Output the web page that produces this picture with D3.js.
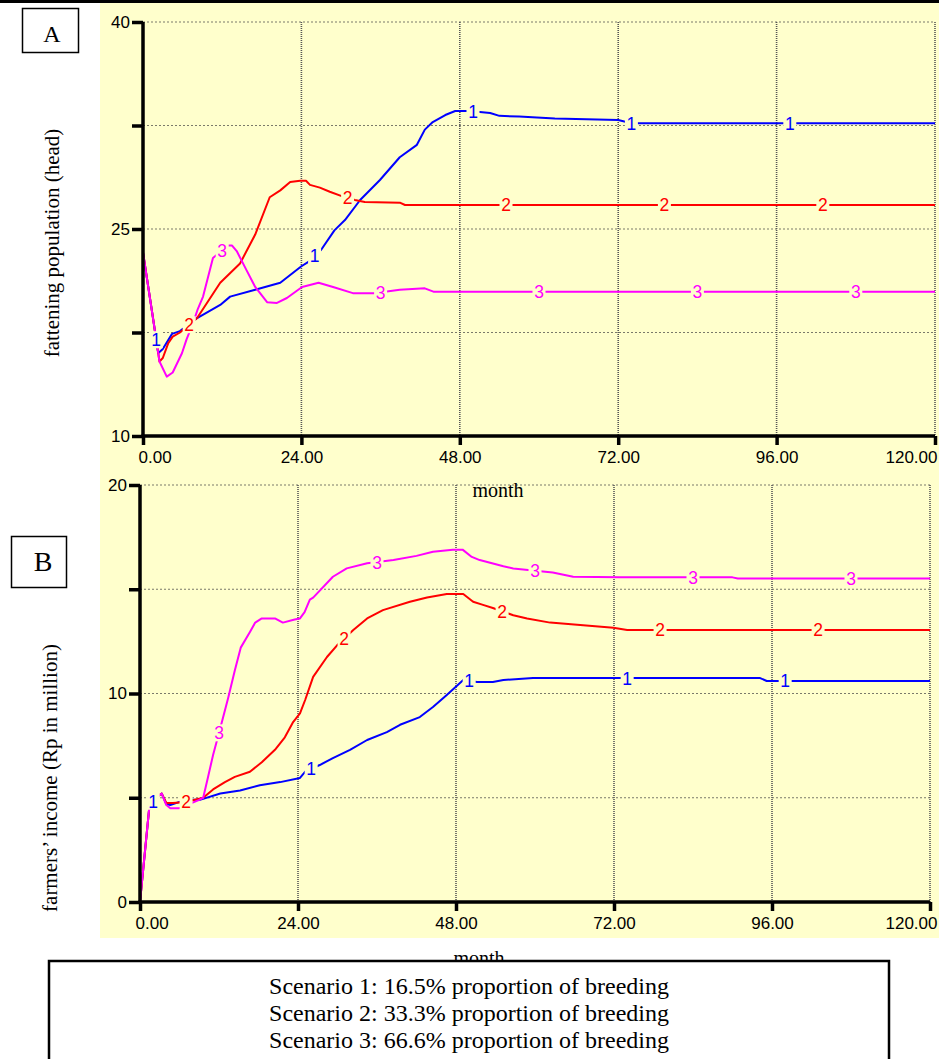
<!DOCTYPE html>
<html><head><meta charset="utf-8">
<script src="https://cdn.jsdelivr.net/npm/d3@7"></script>
<style>body{margin:0;background:#fff;} svg{display:block;}</style>
</head><body>
<svg id="c" width="939" height="1059"></svg>
<script>
// ---------- data ----------
const monthTicks = [0, 24, 48, 72, 96, 120];
const monthTickLabels = ["0.00", "24.00", "48.00", "72.00", "96.00", "120.00"];
const popTicks = [10, 17.5, 25, 32.5, 40];
const popTickLabels = ["10", "", "25", "", "40"];
const incomeTicks = [0, 5, 10, 15, 20];
const incomeTickLabels = ["0", "", "10", "", "20"];
const seriesNames = ["1", "2", "3"];
const seriesColors = ["#0000ff", "#ff0000", "#ff00ff"];
const labelMonths1 = [2, 26, 50, 74, 98];
const labelMonths2 = [7, 31, 55, 79, 103];
const labelMonths3 = [12, 36, 60, 84, 108];

// Panel A: fattening population (head), [month, value]
const pop1 = [[0,23.3],[1.5,18.6],[2.3,16.0],[3,16.3],[4.4,17.4],[5.6,17.6],[6,17.75],[7.1,18.1],[8.2,18.55],[11.7,19.5],[13.2,20.1],[17,20.6],[20.8,21.1],[24,22.3],[25,22.6],[27,23.5],[29,24.9],[30.6,25.65],[32.9,27.1],[35.9,28.55],[38.9,30.2],[41.5,31.1],[42.7,32.2],[43.9,32.75],[45.8,33.26],[47.3,33.55],[49.5,33.55],[52.6,33.4],[54,33.2],[57,33.15],[59,33.1],[62.4,33.0],[72,32.9],[74,32.66],[120,32.66]];
const pop2 = [[0,23.3],[1.5,18.6],[2.5,15.4],[3,15.65],[3.8,16.7],[4.5,17.2],[5.6,17.5],[8.2,18.55],[11.7,21.1],[14.7,22.5],[17,24.6],[19.2,27.3],[20.8,27.8],[22.3,28.4],[23.8,28.5],[24.7,28.5],[25.3,28.2],[26.8,28.0],[28.3,27.7],[30,27.4],[32.1,27.1],[33.6,26.96],[39,26.9],[39.7,26.74],[120,26.74]];
const pop3 = [[0,23.3],[2,17.0],[2.5,15.4],[3.6,14.3],[4.5,14.6],[5.9,16.0],[6.6,17.0],[7.6,18.2],[8.3,19.2],[9.1,20.1],[10.6,22.9],[12.9,23.8],[13.5,23.8],[14.2,23.4],[15.7,22.0],[17,20.8],[18.8,19.7],[20.3,19.64],[21.8,20.0],[24.1,20.8],[26.6,21.1],[28.8,20.8],[31.8,20.35],[35,20.35],[38.9,20.6],[42.7,20.7],[44,20.46],[120,20.46]];

// Panel B: farmers' income (Rp in million), [month, value]
const inc1 = [[0,0],[1.4,4.5],[2.3,5.0],[3.3,5.2],[4,4.7],[4.6,4.65],[6,4.8],[7.6,4.9],[9.1,4.9],[12.2,5.2],[15.2,5.35],[18.2,5.6],[21.3,5.75],[24.3,5.95],[25.1,6.25],[27.3,6.57],[29.3,6.9],[31.9,7.3],[34.5,7.77],[37.5,8.15],[39.5,8.5],[42.5,8.87],[44.5,9.35],[46.6,9.93],[49.1,10.65],[51.2,10.55],[53.6,10.55],[55.2,10.65],[59.7,10.74],[94.2,10.74],[95.2,10.6],[120,10.6]];
const inc2 = [[0,0],[1.4,4.5],[2.3,5.0],[3.3,5.2],[4,4.75],[5,4.75],[7,4.8],[9.6,5.0],[11.1,5.4],[12.9,5.75],[14.4,6.0],[16.7,6.25],[18.5,6.7],[20.5,7.3],[22,7.9],[23.2,8.6],[24.3,9.05],[25.1,9.7],[26.3,10.8],[28.4,11.75],[29.9,12.3],[32.4,13.05],[34.5,13.6],[36.9,14.0],[41,14.4],[43.6,14.6],[46.6,14.77],[49.1,14.77],[50.6,14.4],[52.1,14.25],[53.6,14.1],[56.7,13.75],[58.8,13.6],[62.3,13.4],[66.4,13.3],[71.9,13.15],[74,13.05],[120,13.05]];
const inc3 = [[0,0],[1.4,4.5],[2.3,5.0],[3.3,5.2],[4,4.65],[4.6,4.5],[6,4.5],[9,4.9],[9.6,5.0],[10.3,5.95],[11.1,7.05],[12.2,8.35],[13.4,9.8],[14.4,11.1],[15.3,12.2],[16.7,12.95],[17.5,13.4],[18.5,13.6],[20.5,13.6],[21.7,13.4],[23.5,13.55],[24.3,13.6],[25,13.9],[25.8,14.5],[26.3,14.6],[29.3,15.6],[31.4,16.0],[34.5,16.25],[38.5,16.4],[42,16.6],[44.5,16.8],[47.5,16.9],[49,16.9],[50.4,16.55],[51.6,16.4],[55.2,16.1],[56.7,16.0],[62.7,15.8],[65.8,15.6],[72.9,15.57],[90,15.57],[90.8,15.52],[120,15.52]];

const scenarioLines = [
  "Scenario 1: 16.5% proportion of breeding",
  "Scenario 2: 33.3% proportion of breeding",
  "Scenario 3: 66.6% proportion of breeding"
];

// ---------- drawing ----------
const svg = d3.select("#c");
const BG = "#ffffcc";
const SANS = "'Liberation Sans', Arial, sans-serif";
const SERIF = "'Liberation Serif', 'Times New Roman', serif";

svg.append("rect").attr("x",0).attr("y",0).attr("width",939).attr("height",1059).attr("fill","#fff");
svg.append("rect").attr("x",100).attr("y",3).attr("width",839).attr("height",935).attr("fill",BG);
svg.append("rect").attr("x",0).attr("y",0).attr("width",939).attr("height",3).attr("fill","#000");

function valueAt(series, m) {
  const i = d3.bisector(d => d[0]).left(series, m);
  if (i <= 0) return series[0][1];
  if (i >= series.length) return series[series.length-1][1];
  const a = series[i-1], b = series[i];
  return a[1] + (b[1]-a[1]) * (m - a[0]) / (b[0]-a[0]);
}

function panel(cfg) {
  const x = d3.scaleLinear().domain([0,120]).range([cfg.x0, cfg.x1]);
  const y = d3.scaleLinear().domain(cfg.yDomain).range([cfg.yBot, cfg.yTop]);
  const g = svg.append("g");

  // grid
  g.selectAll(".hg").data(cfg.yTicks.filter(v => v !== cfg.yDomain[0])).join("line")
    .attr("x1", cfg.x0).attr("x2", cfg.x1)
    .attr("y1", d => y(d)).attr("y2", d => y(d))
    .attr("stroke", "#7a7a6a").attr("stroke-width", 1.2).attr("stroke-dasharray", "2,2");
  g.selectAll(".vg").data(monthTicks.filter(v => v !== 0)).join("line")
    .attr("x1", d => x(d)).attr("x2", d => x(d))
    .attr("y1", cfg.yTop).attr("y2", cfg.yBot)
    .attr("stroke", "#555").attr("stroke-width", 1.6).attr("stroke-dasharray", "1,1");

  // lines
  const line = d3.line().x(d => x(d[0])).y(d => y(d[1]));
  cfg.series.forEach((s, i) => {
    g.append("path").datum(s).attr("d", line)
      .attr("fill","none").attr("stroke", seriesColors[i])
      .attr("stroke-width", 2).attr("stroke-linejoin","round");
  });

  // labels on lines
  cfg.series.forEach((s, i) => {
    const months = [labelMonths1, labelMonths2, labelMonths3][i];
    months.forEach(m => {
      const px = x(m), py = y(valueAt(s, m));
      g.append("rect").attr("x", px-6.5).attr("y", py-8.5).attr("width", 13).attr("height", 17).attr("fill", BG);
      g.append("text").attr("x", px).attr("y", py+6.5)
        .attr("text-anchor","middle").attr("font-family", SANS).attr("font-size", 17.5)
        .attr("fill", seriesColors[i]).text(seriesNames[i]);
    });
  });

  // axes
  const ax = g.append("g").attr("transform", `translate(0,${cfg.yBot})`)
    .call(d3.axisBottom(x).tickValues(monthTicks).tickFormat((d,i) => monthTickLabels[i])
      .tickSize(9).tickSizeOuter(0).tickPadding(6));
  const ay = g.append("g").attr("transform", `translate(${cfg.x0},0)`)
    .call(d3.axisLeft(y).tickValues(cfg.yTicks).tickFormat((d,i) => cfg.yTickLabels[i])
      .tickSize(11).tickSizeOuter(0).tickPadding(2));
  [ax, ay].forEach(a => {
    a.select(".domain").attr("stroke","#000").attr("stroke-width",3.5);
    a.selectAll(".tick line").attr("stroke","#000").attr("stroke-width",3.5);
    a.selectAll(".tick text").attr("font-family", SANS).attr("font-size", 17).attr("fill","#000");
  });
  ax.selectAll(".tick text").each(function(d, i) {
    const t = d3.select(this);
    if (i === 0) t.attr("text-anchor","start").attr("x", -5);
    if (i === monthTicks.length - 1) t.attr("text-anchor","end").attr("x", 937 - cfg.x1);
  });
  ay.select(".domain").attr("d", `M0,${cfg.yTop}V${cfg.yBot+1.5}`);
  ax.select(".domain").attr("d", `M${cfg.x0-1.5},0H${cfg.x1}`);
}

panel({x0:143, x1:935, yTop:22, yBot:436, yDomain:[10,40], yTicks:popTicks, yTickLabels:popTickLabels, series:[pop1,pop2,pop3]});
panel({x0:140, x1:930, yTop:485, yBot:902, yDomain:[0,20], yTicks:incomeTicks, yTickLabels:incomeTickLabels, series:[inc1,inc2,inc3]});

// axis titles
svg.append("text").attr("x",498).attr("y",497).attr("text-anchor","middle")
  .attr("font-family",SERIF).attr("font-size",20).text("month");
svg.append("text").attr("x",479).attr("y",965).attr("text-anchor","middle")
  .attr("font-family",SERIF).attr("font-size",20).text("month");
svg.append("text").attr("transform","translate(59,243) rotate(-90)").attr("text-anchor","middle")
  .attr("font-family",SERIF).attr("font-size",21).text("fattening population (head)");
svg.append("text").attr("transform","translate(57,778) rotate(-90)").attr("text-anchor","middle")
  .attr("font-family",SERIF).attr("font-size",21).text("farmers\u2019 income (Rp in million)");

// panel letters
svg.append("rect").attr("x",22.5).attr("y",8.5).attr("width",56).attr("height",44)
  .attr("fill","#fff").attr("stroke","#000").attr("stroke-width",1.5);
svg.append("text").attr("x",52).attr("y",42).attr("text-anchor","middle")
  .attr("font-family",SERIF).attr("font-size",24).text("A");
svg.append("rect").attr("x",11.5).attr("y",536.5).attr("width",55).attr("height",51)
  .attr("fill","#fff").attr("stroke","#000").attr("stroke-width",1.5);
svg.append("text").attr("x",43).attr("y",571).attr("text-anchor","middle")
  .attr("font-family",SERIF).attr("font-size",28).text("B");

// scenario box
svg.append("rect").attr("x",49).attr("y",961).attr("width",840).attr("height",110)
  .attr("fill","#fff").attr("stroke","#000").attr("stroke-width",2.5);
svg.selectAll(".sc").data(scenarioLines).join("text")
  .attr("x",469).attr("y",(d,i) => 994 + i*27).attr("text-anchor","middle")
  .attr("font-family",SERIF).attr("font-size",24).attr("fill","#000").text(d => d);
</script>
</body></html>
